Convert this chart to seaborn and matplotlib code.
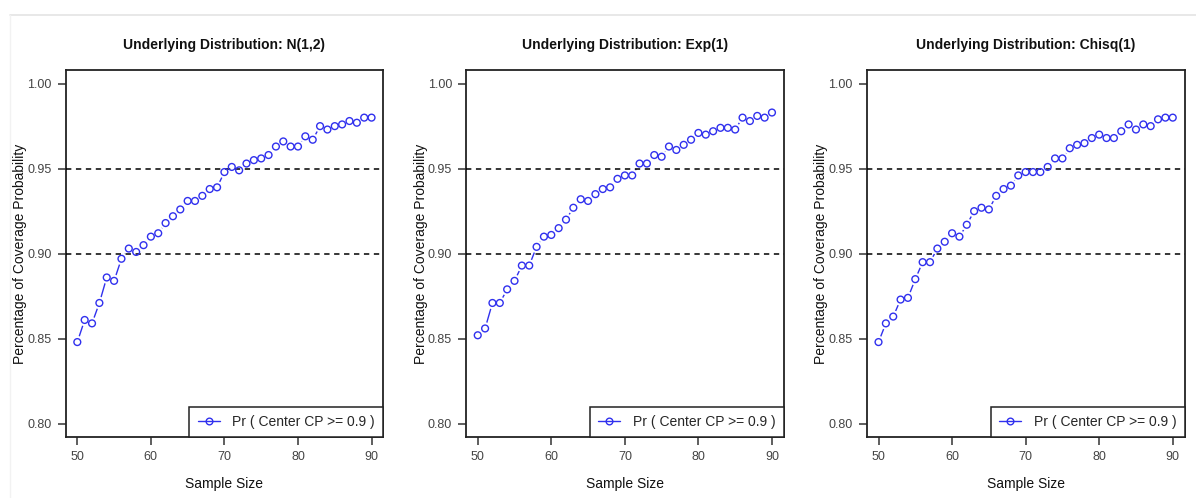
import pandas as pd
import seaborn as sns
import matplotlib.pyplot as plt
from matplotlib.lines import Line2D

# sample sizes on the x axis
sample_size = list(range(50, 91))

# coverage probabilities
cp_norm = [0.848, 0.861, 0.859, 0.871, 0.886, 0.884, 0.897, 0.903, 0.901, 0.905,
           0.910, 0.912, 0.918, 0.922, 0.926, 0.931, 0.931, 0.934, 0.938, 0.939,
           0.948, 0.951, 0.949, 0.953, 0.955, 0.956, 0.958, 0.963, 0.966, 0.963,
           0.963, 0.969, 0.967, 0.975, 0.973, 0.975, 0.976, 0.978, 0.977, 0.980, 0.980]
cp_exp = [0.852, 0.856, 0.871, 0.871, 0.879, 0.884, 0.893, 0.893, 0.904, 0.910,
          0.911, 0.915, 0.920, 0.927, 0.932, 0.931, 0.935, 0.938, 0.939, 0.944,
          0.946, 0.946, 0.953, 0.953, 0.958, 0.957, 0.963, 0.961, 0.964, 0.967,
          0.971, 0.970, 0.972, 0.974, 0.974, 0.973, 0.980, 0.978, 0.981, 0.980, 0.983]
cp_chisq = [0.848, 0.859, 0.863, 0.873, 0.874, 0.885, 0.895, 0.895, 0.903, 0.907,
            0.912, 0.910, 0.917, 0.925, 0.927, 0.926, 0.934, 0.938, 0.940, 0.946,
            0.948, 0.948, 0.948, 0.951, 0.956, 0.956, 0.962, 0.964, 0.965, 0.968,
            0.970, 0.968, 0.968, 0.972, 0.976, 0.973, 0.976, 0.975, 0.979, 0.980, 0.980]

dist_names = ["N(1,2)", "Exp(1)", "Chisq(1)"]
series = [cp_norm, cp_exp, cp_chisq]
y_ticks = [0.80, 0.85, 0.90, 0.95, 1.00]
x_ticks = [50, 60, 70, 80, 90]
ref_lines = [0.90, 0.95]
legend_label = "Pr ( Center CP >= 0.9 )"

sns.set_theme(style="white")
plt.rcParams["font.family"] = ["Liberation Sans", "DejaVu Sans"]

blue = "#3030ee"
fig = plt.figure(figsize=(11.96, 4.98), dpi=100)
lefts = [0.0548, 0.3896, 0.7247]
axes = [fig.add_axes([l, 0.1219, 0.2657, 0.7375]) for l in lefts]

for ax, name, vals in zip(axes, dist_names, series):
    df = pd.DataFrame({"n": sample_size, "cp": vals})
    # line behind, then white discs to cut gaps (like R type="b"), then open circles
    sns.lineplot(data=df, x="n", y="cp", ax=ax, color=blue, lw=1.0, zorder=1)
    sns.scatterplot(data=df, x="n", y="cp", ax=ax, s=80, color="white",
                    edgecolor="none", linewidth=0, zorder=2)
    sns.scatterplot(data=df, x="n", y="cp", ax=ax, s=24, facecolor="none",
                    edgecolor=blue, linewidth=1.0, zorder=4)
    for h in ref_lines:
        ax.axhline(h, color="black", lw=1.1, ls=(0, (3.5, 3)), zorder=3)

    ax.set_xlim(48.4, 91.6)
    ax.set_ylim(0.792, 1.008)
    ax.set_xticks(x_ticks)
    ax.set_yticks(y_ticks)
    ax.set_yticklabels([f"{t:.2f}" for t in y_ticks])
    ax.tick_params(axis="both", direction="out", length=6, width=1.1,
                   color="#333333", labelsize=9, labelcolor="#444444",
                   left=True, bottom=True, pad=4)
    for sp in ax.spines.values():
        sp.set_color("#222222")
        sp.set_linewidth(1.3)
    ax.set_title(f"Underlying Distribution: {name}", fontsize=10,
                 fontweight="bold", pad=15, color="#111111")
    ax.set_xlabel("Sample Size", fontsize=10, labelpad=10, color="#111111")
    ax.set_ylabel("Percentage of Coverage Probability", fontsize=10,
                  labelpad=0, color="#111111")

    handle = Line2D([], [], color=blue, lw=1.0, marker="o", markersize=4.8,
                    markerfacecolor="none", markeredgecolor=blue)
    leg = ax.legend([handle], [legend_label], loc="lower right",
                    borderaxespad=0, fancybox=False, frameon=True,
                    fontsize=10, handlelength=1.6, borderpad=0.6,
                    handletextpad=0.9)
    leg.get_frame().set_edgecolor("#222222")
    leg.get_frame().set_linewidth(1.1)
    leg.get_frame().set_alpha(1)

# faint page frame at top and left
fig.add_artist(Line2D([10 / 1196, 1], [1 - 15 / 498, 1 - 15 / 498],
                      color="#e4e4e4", lw=1.2))
fig.add_artist(Line2D([10 / 1196, 10 / 1196], [0, 1 - 15 / 498],
                      color="#f2f2f2", lw=1.0))

fig.savefig("out.png", dpi=100)
